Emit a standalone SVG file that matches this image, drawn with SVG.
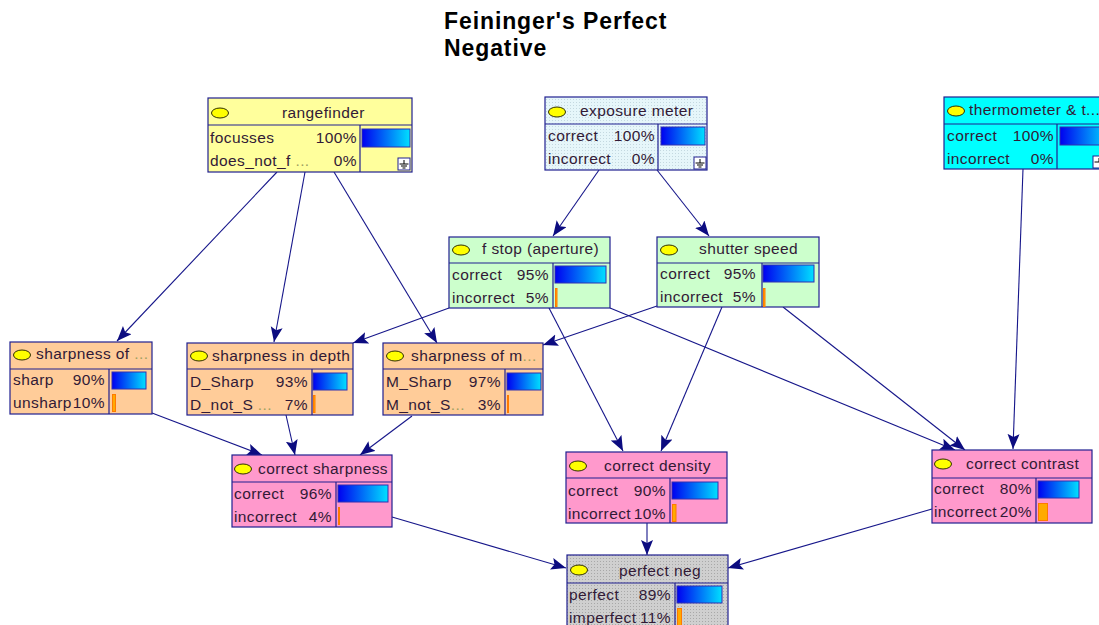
<svg xmlns="http://www.w3.org/2000/svg" width="1099" height="625" viewBox="0 0 1099 625">
  <defs>
    <style>
      .title { font-family: "Liberation Sans", Arial, sans-serif; font-weight: bold; font-size: 23px; letter-spacing: 0.9px; fill: #000; }
      .t { font-family: "Liberation Sans", Arial, sans-serif; font-size: 15.5px; letter-spacing: 0.4px; fill: #321a36; }
      .r { text-anchor: end; }
      .dots { fill: #a0a060; }
      .box { stroke: #202090; stroke-width: 1.2; }
      .div { stroke: #202090; stroke-width: 1.2; fill: none; }
      .oval { fill: #ffff00; stroke: #303000; stroke-width: 1; }
      .bar { fill: url(#blueBar); stroke: #3030b0; stroke-width: 1; }
      .obar { fill: #ffaa00; stroke: #ff7a00; stroke-width: 1; }
      .gnd { fill: #ffffff; stroke: #202090; stroke-width: 1; }
      .gl { stroke: #000; stroke-width: 1; }
      .edge { stroke: #16168a; stroke-width: 1.1; fill: none; marker-end: url(#arrow); }
      .yellow { fill: #ffff9c; }
      .meter { fill: url(#dotBlue); }
      .cyan { fill: #00ffff; }
      .green { fill: #ccffcc; }
      .peach { fill: #ffcc99; }
      .pink { fill: #ff99cc; }
      .grey { fill: url(#dotGrey); }
    </style>
    <linearGradient id="blueBar" x1="0" y1="0" x2="1" y2="0">
      <stop offset="0" stop-color="#0000f0"/>
      <stop offset="1" stop-color="#00e0ff"/>
    </linearGradient>
    <pattern id="dotBlue" width="3" height="3" patternUnits="userSpaceOnUse">
      <rect width="3" height="3" fill="#e6f6fa"/>
      <rect width="1" height="1" fill="#c4d8e0"/>
    </pattern>
    <pattern id="dotGrey" width="3" height="3" patternUnits="userSpaceOnUse">
      <rect width="3" height="3" fill="#cfcfcf"/>
      <rect width="1" height="1" fill="#a8a8a8"/>
    </pattern>
    <marker id="arrow" markerUnits="userSpaceOnUse" markerWidth="18" markerHeight="14" refX="15" refY="6" orient="auto">
      <path d="M0,0 L15,6 L0,12 L3,6 z" fill="#0c0c80"/>
    </marker>
  </defs>

  <rect width="1099" height="625" fill="#ffffff"/>

  <text class="title" x="444" y="29">Feininger's Perfect</text>
  <text class="title" x="444" y="56">Negative</text>

  <!-- links between nodes -->
  <g id="connectors">
    <line class="edge" x1="277" y1="172" x2="117" y2="341"/>
    <line class="edge" x1="305" y1="172" x2="274" y2="342"/>
    <line class="edge" x1="334" y1="172" x2="437" y2="343"/>
    <line class="edge" x1="599" y1="170" x2="553" y2="236"/>
    <line class="edge" x1="657" y1="170" x2="709" y2="236"/>
    <line class="edge" x1="1023" y1="169" x2="1013" y2="449"/>
    <line class="edge" x1="449" y1="308" x2="353" y2="343"/>
    <line class="edge" x1="657" y1="306" x2="543" y2="345"/>
    <line class="edge" x1="549" y1="308" x2="623" y2="451"/>
    <line class="edge" x1="610" y1="308" x2="955" y2="450"/>
    <line class="edge" x1="722" y1="307" x2="661" y2="451"/>
    <line class="edge" x1="783" y1="307" x2="965" y2="450"/>
    <line class="edge" x1="152" y1="413" x2="262" y2="455"/>
    <line class="edge" x1="286" y1="415" x2="295" y2="455"/>
    <line class="edge" x1="412" y1="416" x2="360" y2="455"/>
    <line class="edge" x1="392" y1="517" x2="566" y2="568"/>
    <line class="edge" x1="647" y1="523" x2="647" y2="555"/>
    <line class="edge" x1="932" y1="509" x2="728" y2="568"/>
  </g>

  <g id="rangefinder">
    <rect class="box yellow" x="208" y="98" width="204" height="74"/>
    <path class="div" d="M208,125 H412 M360,125 V172"/>
    <ellipse class="oval" cx="220" cy="113" rx="8.5" ry="5"/>
    <text class="t" x="282" y="118">rangefinder</text>
    <text class="t" x="210" y="143">focusses</text>
    <text class="t r" x="357" y="143">100%</text>
    <text class="t" x="210" y="166">does_not_f <tspan class="dots">...</tspan></text>
    <text class="t r" x="357" y="166">0%</text>
    <rect class="bar" x="362" y="129" width="48" height="18"/>
    <rect class="gnd" x="398" y="158" width="12" height="12"/>
    <path class="gl" d="M404,160 V164 M399.5,164 H408.5 M401,166 H407 M402.5,168 H405.5"/>
  </g>

  <g id="exposure-meter">
    <rect class="box meter" x="545" y="97" width="162" height="73"/>
    <path class="div" d="M545,124 H707 M658,124 V170"/>
    <ellipse class="oval" cx="557" cy="112" rx="8.5" ry="5"/>
    <text class="t" x="580" y="116">exposure meter</text>
    <text class="t" x="548" y="141">correct</text>
    <text class="t r" x="655" y="141">100%</text>
    <text class="t" x="548" y="164">incorrect</text>
    <text class="t r" x="655" y="164">0%</text>
    <rect class="bar" x="661" y="127" width="44" height="18"/>
    <rect class="gnd" x="694" y="157" width="12" height="12"/>
    <path class="gl" d="M700,159 V163 M695.5,163 H704.5 M697,165 H703 M698.5,167 H701.5"/>
  </g>

  <g id="thermometer">
    <rect class="box cyan" x="944" y="97" width="165" height="72"/>
    <path class="div" d="M944,124 H1109 M1057,124 V169"/>
    <ellipse class="oval" cx="956" cy="111" rx="8.5" ry="5"/>
    <text class="t" x="969" y="115">thermometer &amp; t...</text>
    <text class="t" x="947" y="141">correct</text>
    <text class="t r" x="1054" y="141">100%</text>
    <text class="t" x="947" y="164">incorrect</text>
    <text class="t r" x="1054" y="164">0%</text>
    <rect class="bar" x="1060" y="127" width="50" height="18"/>
    <rect class="gnd" x="1093" y="156" width="12" height="12"/>
    <path class="gl" d="M1099,158 V162 M1094.5,162 H1103.5"/>
  </g>

  <g id="f-stop">
    <rect class="box green" x="449" y="237" width="161" height="71"/>
    <path class="div" d="M449,263 H610 M553,263 V308"/>
    <ellipse class="oval" cx="461" cy="250" rx="8.5" ry="5"/>
    <text class="t" x="482" y="254">f stop (aperture)</text>
    <text class="t" x="452" y="280">correct</text>
    <text class="t r" x="549" y="280">95%</text>
    <text class="t" x="452" y="303">incorrect</text>
    <text class="t r" x="549" y="303">5%</text>
    <rect class="bar" x="555" y="266" width="51" height="17"/>
    <rect class="obar" x="555.5" y="288.5" width="1.5" height="18"/>
  </g>

  <g id="shutter-speed">
    <rect class="box green" x="657" y="237" width="162" height="70"/>
    <path class="div" d="M657,263 H819 M762,263 V307"/>
    <ellipse class="oval" cx="669" cy="250" rx="8.5" ry="5"/>
    <text class="t" x="699" y="254">shutter speed</text>
    <text class="t" x="660" y="279">correct</text>
    <text class="t r" x="756" y="279">95%</text>
    <text class="t" x="660" y="302">incorrect</text>
    <text class="t r" x="756" y="302">5%</text>
    <rect class="bar" x="763" y="265" width="51" height="17"/>
    <rect class="obar" x="763.5" y="288.5" width="1.5" height="18"/>
  </g>

  <g id="sharpness-of">
    <rect class="box peach" x="10" y="342" width="142" height="72"/>
    <path class="div" d="M10,369 H152 M109,369 V414"/>
    <ellipse class="oval" cx="22" cy="355" rx="8.5" ry="5"/>
    <text class="t" x="36" y="359">sharpness of <tspan class="dots">...</tspan></text>
    <text class="t" x="13" y="385">sharp</text>
    <text class="t r" x="105" y="385">90%</text>
    <text class="t" x="13" y="408">unsharp</text>
    <text class="t r" x="105" y="408">10%</text>
    <rect class="bar" x="112" y="372" width="34" height="17"/>
    <rect class="obar" x="112.5" y="394.5" width="3" height="17"/>
  </g>

  <g id="sharpness-in-depth">
    <rect class="box peach" x="187" y="343" width="166" height="72"/>
    <path class="div" d="M187,369 H353 M312,369 V415"/>
    <ellipse class="oval" cx="199" cy="356" rx="8.5" ry="5"/>
    <text class="t" x="212" y="361">sharpness in depth</text>
    <text class="t" x="190" y="387">D_Sharp</text>
    <text class="t r" x="308" y="387">93%</text>
    <text class="t" x="190" y="410">D_not_S <tspan class="dots">...</tspan></text>
    <text class="t r" x="308" y="410">7%</text>
    <rect class="bar" x="313" y="373" width="34" height="17"/>
    <rect class="obar" x="313.5" y="395.5" width="1.5" height="17"/>
  </g>

  <g id="sharpness-of-m">
    <rect class="box peach" x="383" y="343" width="160" height="72"/>
    <path class="div" d="M383,369 H543 M505,369 V415"/>
    <ellipse class="oval" cx="395" cy="356" rx="8.5" ry="5"/>
    <text class="t" x="411" y="361">sharpness of m<tspan class="dots">...</tspan></text>
    <text class="t" x="386" y="387">M_Sharp</text>
    <text class="t r" x="501" y="387">97%</text>
    <text class="t" x="386" y="410">M_not_S<tspan class="dots">...</tspan></text>
    <text class="t r" x="501" y="410">3%</text>
    <rect class="bar" x="507" y="373" width="34" height="17"/>
    <rect class="obar" x="507.5" y="395.5" width="1" height="17"/>
  </g>

  <g id="correct-sharpness">
    <rect class="box pink" x="232" y="455" width="160" height="72"/>
    <path class="div" d="M232,482 H392 M336,482 V527"/>
    <ellipse class="oval" cx="243" cy="469" rx="8.5" ry="5"/>
    <text class="t" x="258" y="474">correct sharpness</text>
    <text class="t" x="234" y="499">correct</text>
    <text class="t r" x="332" y="499">96%</text>
    <text class="t" x="234" y="522">incorrect</text>
    <text class="t r" x="332" y="522">4%</text>
    <rect class="bar" x="338" y="485" width="50" height="17"/>
    <rect class="obar" x="338.5" y="507.5" width="1" height="17"/>
  </g>

  <g id="correct-density">
    <rect class="box pink" x="566" y="452" width="161" height="71"/>
    <path class="div" d="M566,478 H727 M670,478 V523"/>
    <ellipse class="oval" cx="578" cy="466" rx="8.5" ry="5"/>
    <text class="t" x="604" y="471">correct density</text>
    <text class="t" x="568" y="496">correct</text>
    <text class="t r" x="666" y="496">90%</text>
    <text class="t" x="568" y="519">incorrect</text>
    <text class="t r" x="666" y="519">10%</text>
    <rect class="bar" x="672" y="482" width="46" height="17"/>
    <rect class="obar" x="672.5" y="504.5" width="3.5" height="17"/>
  </g>

  <g id="correct-contrast">
    <rect class="box pink" x="932" y="450" width="160" height="73"/>
    <path class="div" d="M932,478 H1092 M1036,478 V523"/>
    <ellipse class="oval" cx="943" cy="464" rx="8.5" ry="5"/>
    <text class="t" x="966" y="469">correct contrast</text>
    <text class="t" x="934" y="494">correct</text>
    <text class="t r" x="1032" y="494">80%</text>
    <text class="t" x="934" y="517">incorrect</text>
    <text class="t r" x="1032" y="517">20%</text>
    <rect class="bar" x="1038" y="481" width="41" height="17"/>
    <rect class="obar" x="1038.5" y="503.5" width="9" height="17"/>
  </g>

  <g id="perfect-neg">
    <rect class="box grey" x="567" y="555" width="161" height="90"/>
    <path class="div" d="M567,583 H728 M675,583 V645"/>
    <ellipse class="oval" cx="579" cy="570" rx="8.5" ry="5"/>
    <text class="t" x="619" y="576">perfect neg</text>
    <text class="t" x="569" y="600">perfect</text>
    <text class="t r" x="671" y="600">89%</text>
    <text class="t" x="569" y="623">imperfect</text>
    <text class="t r" x="671" y="623">11%</text>
    <rect class="bar" x="677" y="586" width="45" height="17"/>
    <rect class="obar" x="677.5" y="608.5" width="4" height="17"/>
  </g>
</svg>
